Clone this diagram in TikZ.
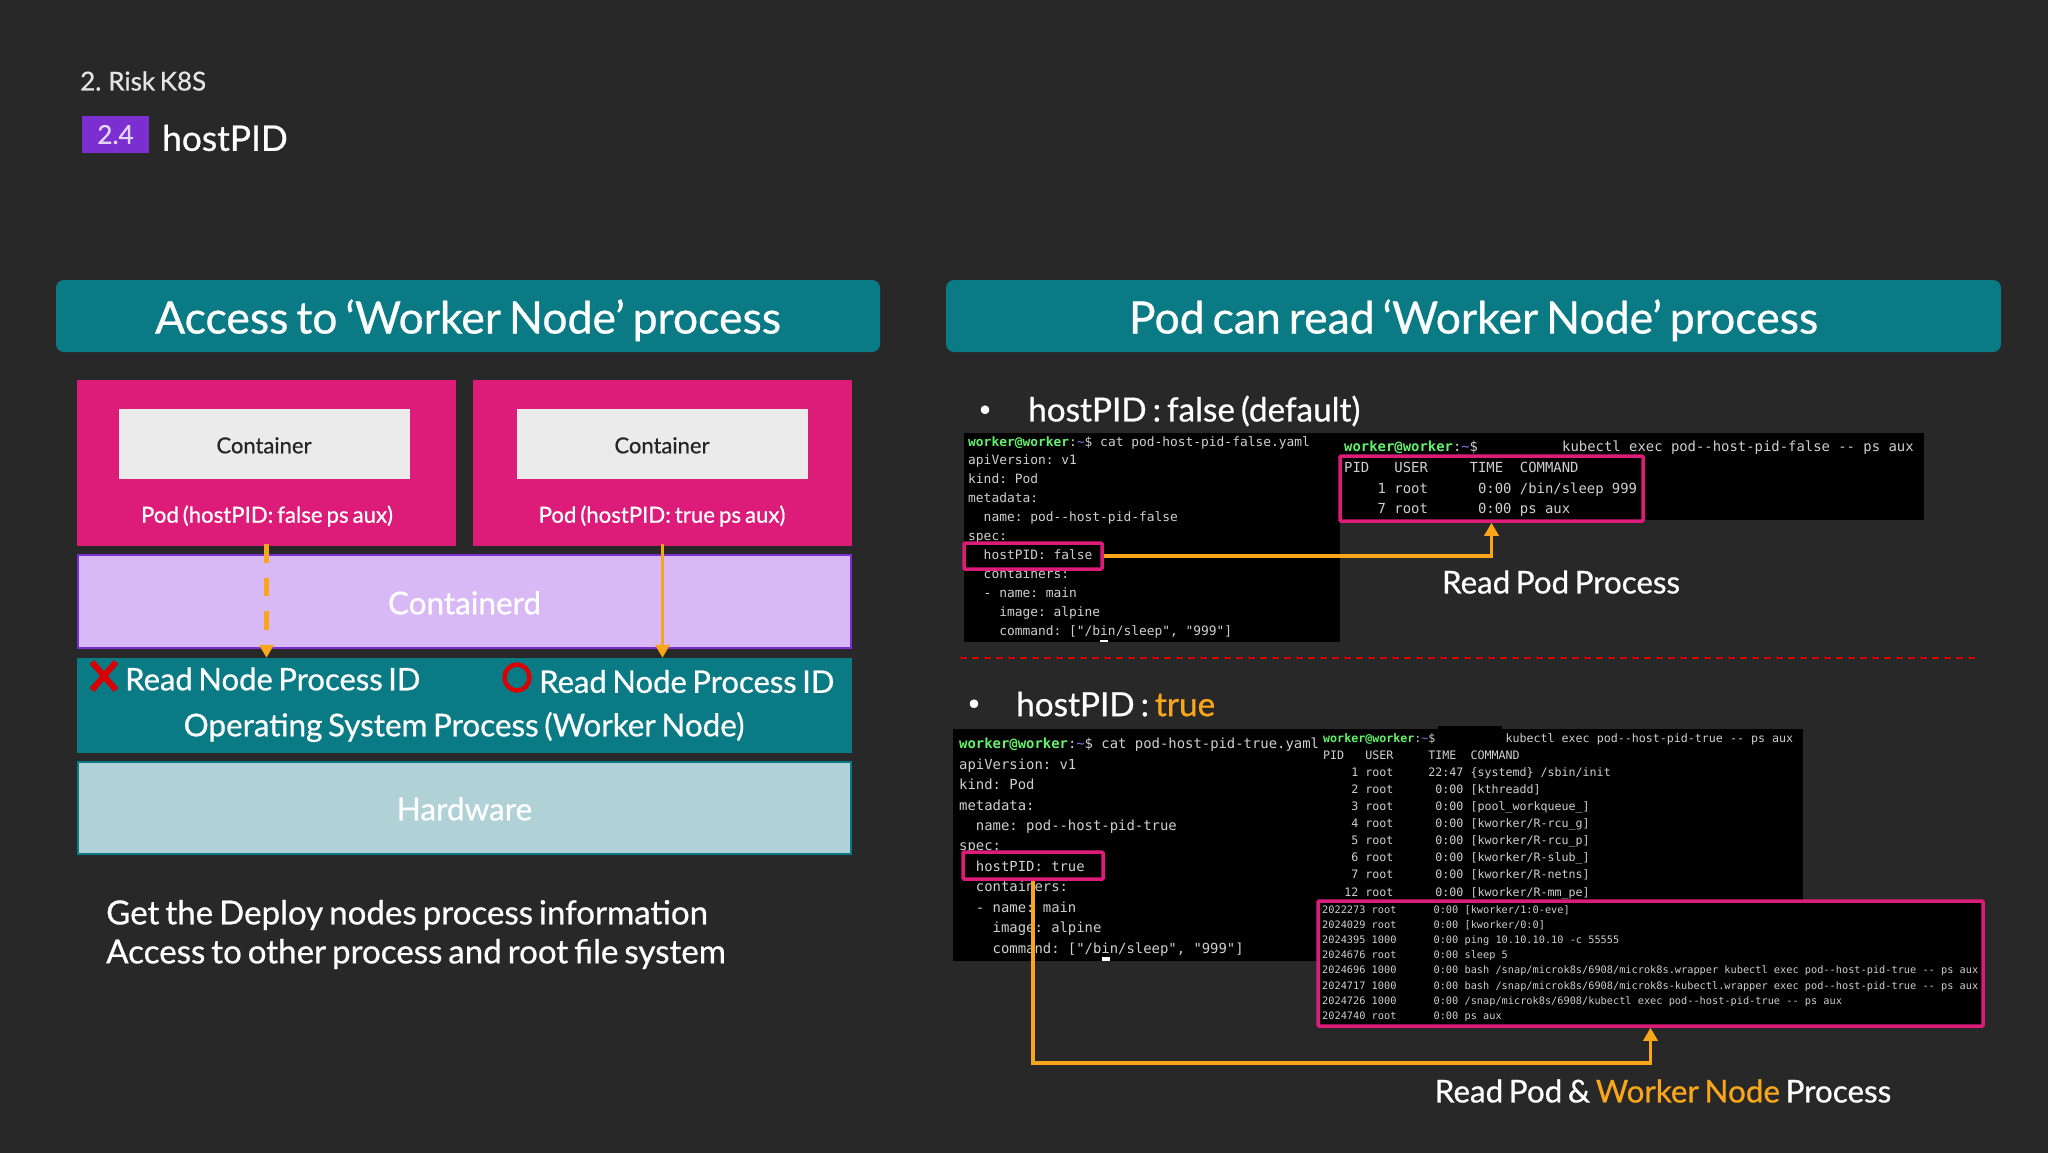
\documentclass[tikz,border=0pt]{standalone}
\usepackage{fontspec}
\usepackage{xcolor}
\setmainfont{Lato}[FakeBold=0.7,WordSpace=0.7]
\newfontfamily\termfont{DejaVu Sans Mono}
\usetikzlibrary{arrows.meta}
\definecolor{slidebg}{HTML}{282828}
\definecolor{tealbar}{HTML}{0A7A85}
\definecolor{podpink}{HTML}{DC1C78}
\definecolor{boxgray}{HTML}{EBEBEB}
\definecolor{lilac}{HTML}{D8B9F5}
\definecolor{purple2}{HTML}{7B2FD0}
\definecolor{hwblue}{HTML}{B0D2D6}
\definecolor{orange2}{HTML}{F9A61A}
\definecolor{termgray}{HTML}{CFCFCF}
\definecolor{termgreen}{HTML}{62F26C}
\definecolor{termblue}{HTML}{7A78E8}
\newcommand{\termsize}[2]{\termfont\frenchspacing\fontsize{#1}{#2}\selectfont}
\newcommand{\slidesize}[1]{\fontsize{#1}{#1}\selectfont}
\newcommand{\prompt}{\textcolor{termgreen}{\bfseries worker@worker}:\textcolor{termblue}{\textasciitilde}\$}
\tikzset{
  layer/.style={inner sep=0pt,text=white,text height=25.6pt,text depth=0pt,font=\slidesize{31.5}},
  titlebar/.style={fill=tealbar,rounded corners=8pt,inner sep=0pt,text=white,text height=35pt,text depth=0pt,font=\slidesize{44.5}},
  podbox/.style={fill=podpink,minimum width=379pt,minimum height=166pt,inner sep=0pt},
  ctrbox/.style={fill=boxgray,minimum width=291pt,minimum height=70pt,inner sep=0pt,text=black!85,text height=18.6pt,text depth=0pt,font=\slidesize{22}},
  podlabel/.style={inner sep=0pt,text=white,font=\slidesize{22.2}},
  termbg/.style={fill=black},
  termtext/.style={text=termgray,align=left,anchor=north west,inner sep=0pt},
  hilite/.style={draw=podpink,line width=3.5pt,rounded corners=1pt,inner sep=0pt},
  flow/.style={draw=orange2,line width=3.5pt,-{Triangle[length=13pt,width=14pt]}},
  slidetext/.style={inner sep=0pt,text=white},
}
\begin{document}
\begin{tikzpicture}[x=1pt,y=-1pt]
  \useasboundingbox (0,0) rectangle (2048,1152);
  \fill[slidebg] (-3,-3) rectangle (2051,1155);

  \node[slidetext,anchor=west,text=white!90!black,font=\slidesize{26}] (section) at (80,81) {2. Risk K8S};
  \node[fill=purple2,minimum width=67pt,minimum height=37pt,inner sep=0pt,text=purple2!20!white,font=\slidesize{26}] (badge) at (115.5,134.5) {2.4};
  \node[slidetext,anchor=west,font=\slidesize{35.3}] (topic) at (162,138) {hostPID};

  \node[titlebar,minimum width=824pt,minimum height=72pt] (titleleft) at (468,316) {Access to ‘Worker Node’ process};
  \node[titlebar,minimum width=1055pt,minimum height=72pt] (titleright) at (1473.5,316) {Pod can read ‘Worker Node’ process};

  \node[podbox] (podf) at (266.5,463) {};
  \node[podbox] (podt) at (662.5,463) {};
  \node[ctrbox] (ctrf) at (264,444) {Container};
  \node[ctrbox] (ctrt) at (662,444) {Container};
  \node[podlabel] (podflabel) at (267,516) {Pod (hostPID: false ps aux)};
  \node[podlabel] (podtlabel) at (662,516) {Pod (hostPID: true ps aux)};

  \node[layer,fill=lilac,draw=purple2,line width=2.5pt,minimum width=773pt,minimum height=93pt] (runtime) at (464.5,601.5) {Containerd};
  \node[fill=tealbar,minimum width=775pt,minimum height=95pt,inner sep=0pt] (os) at (464.5,705.5) {};
  \node[layer,fill=hwblue,draw=tealbar,line width=2pt,minimum width=773pt,minimum height=92pt] (hw) at (464.5,807.5) {Hardware};

  \node[slidetext,anchor=west,font=\slidesize{31}] (readno) at (125,679) {Read Node Process ID};
  \node[slidetext,anchor=west,font=\slidesize{31}] (readyes) at (539,681.5) {Read Node Process ID};
  \node[slidetext,font=\slidesize{31.4}] (oslabel) at (464,727) {Operating System Process (Worker Node)};

  \draw[red!85!black,line width=6pt] (92,662) -- (116,690) (116,662) -- (92,690);
  \draw[red!85!black,line width=4.5pt] (517,677.5) ellipse (12.5pt and 13pt);

  \draw[flow,line width=5pt,dash pattern=on 18.5pt off 15pt] (podf.south) ++(0,-2) -- (podf.south |- os.north);
  \draw[flow,line width=3.5pt] (podt.south) ++(0,-2) -- (podt.south |- os.north);

  \node[slidetext,anchor=west,font=\slidesize{33.1}] (notea) at (106,915) {Get the Deploy nodes process information};
  \node[slidetext,anchor=west,font=\slidesize{33.1}] (noteb) at (106,954) {Access to other process and root file system};

  \node[slidetext,font=\slidesize{22}] (bulletf) at (985,411) {•};
  \node[slidetext,anchor=west,font=\slidesize{33.3}] (headf) at (1028,411) {hostPID : false (default)};

  \fill[termbg] (964,433) rectangle (1340,642);
  \fill[termbg] (1340,433) rectangle (1924,520);
  \fill[white] (1100,640) rectangle (1108,642);
  \node[termtext,font=\termsize{12.9}{18.9}] (yamlf) at (968,436) {\prompt~cat pod-host-pid-false.yaml\\
apiVersion:~v1\\
kind:~Pod\\
metadata:\\
~~name:~pod-{}-host-pid-false\\
spec:\\
~~hostPID:~false\\
~~containers:\\
~~-~name:~main\\
~~~~image:~alpine\\
~~~~command:~["/bin/sleep",~"999"]};
  \node[termtext,font=\termsize{13.9}{20.5}] (psf) at (1344,441) {\prompt~~~~~~~~~~~~~~~~~~~~~~~~~~};
  \node[termtext,font=\termsize{13.9}{20.5}] (execf) at (1562,441) {kubectl~exec~pod-{}-host-pid-false~-{}-~ps~aux};
  \node[termtext,font=\termsize{13.9}{20.5}] (listf) at (1344,462) {PID~~~USER~~~~~TIME~~COMMAND\\
~~~~1~root~~~~~~0:00~/bin/sleep~999\\
~~~~7~root~~~~~~0:00~ps~aux};
  \node[hilite,minimum width=138pt,minimum height=26pt] (pidf) at (1033,556) {};
  \node[hilite,minimum width=303pt,minimum height=65pt] (procf) at (1491.5,488.5) {};
  \draw[flow] (pidf.east) -| (procf.south);
  \node[slidetext,font=\slidesize{31.3}] (readf) at (1561,582) {Read Pod Process};

  \draw[red!80!black,line width=1.5pt,dash pattern=on 7pt off 5pt] (960,658) -- (1979,658);

  \node[slidetext,font=\slidesize{22}] (bullett) at (974,705) {•};
  \node[slidetext,anchor=west,font=\slidesize{33.3}] (headt) at (1016,704) {hostPID : \textcolor{orange2}{true}};

  \fill[termbg] (953,729) rectangle (1320,961);
  \fill[termbg] (1320,729) rectangle (1803,901);
  \fill[termbg] (1438,726) rectangle (1502,729);
  \fill[white] (1102,957) rectangle (1110,961);
  \node[termtext,font=\termsize{13.9}{20.42}] (yamlt) at (959,738) {\prompt~cat pod-host-pid-true.yaml\\
apiVersion:~v1\\
kind:~Pod\\
metadata:\\
~~name:~pod-{}-host-pid-true\\
spec:\\
~~hostPID:~true\\
~~containers:\\
~~-~name:~main\\
~~~~image:~alpine\\
~~~~command:~["/bin/sleep",~"999"]};
  \node[termtext,font=\termsize{11.65}{17.1}] (listt) at (1323,733) {\prompt~~~~~~~~~~kubectl~exec~pod-{}-host-pid-true~-{}-~ps~aux\\
PID~~~USER~~~~~TIME~~COMMAND\\
~~~~1~root~~~~~22:47~\{systemd\}~/sbin/init\\
~~~~2~root~~~~~~0:00~[kthreadd]\\
~~~~3~root~~~~~~0:00~[pool\_workqueue\_]\\
~~~~4~root~~~~~~0:00~[kworker/R-rcu\_g]\\
~~~~5~root~~~~~~0:00~[kworker/R-rcu\_p]\\
~~~~6~root~~~~~~0:00~[kworker/R-slub\_]\\
~~~~7~root~~~~~~0:00~[kworker/R-netns]\\
~~~12~root~~~~~~0:00~[kworker/R-mm\_pe]};
  \fill[termbg] (1318,901) rectangle (1983,1026);
  \node[termtext,font=\termsize{10.28}{15.1}] (listall) at (1322,905.5) {2022273~root~~~~~~0:00~[kworker/1:0-eve]\\
2024029~root~~~~~~0:00~[kworker/0:0]\\
2024395~1000~~~~~~0:00~ping~10.10.10.10~-c~55555\\
2024676~root~~~~~~0:00~sleep~5\\
2024696~1000~~~~~~0:00~bash~/snap/microk8s/6908/microk8s.wrapper~kubectl~exec~pod-{}-host-pid-true~-{}-~ps~aux\\
2024717~1000~~~~~~0:00~bash~/snap/microk8s/6908/microk8s-kubectl.wrapper~exec~pod-{}-host-pid-true~-{}-~ps~aux\\
2024726~1000~~~~~~0:00~/snap/microk8s/6908/kubectl~exec~pod-{}-host-pid-true~-{}-~ps~aux\\
2024740~root~~~~~~0:00~ps~aux};
  \node[hilite,minimum width=140pt,minimum height=27pt] (pidt) at (1033,865.5) {};
  \node[hilite,minimum width=665pt,minimum height=125pt] (procall) at (1650.5,963.5) {};
  \coordinate (bendt) at (1033,1063);
  \draw[flow] (pidt.south) -- (bendt) -| (procall.south);
  \node[slidetext,font=\slidesize{31.4}] (readall) at (1663,1091) {Read Pod \& \textcolor{orange2}{Worker Node} Process};
\end{tikzpicture}
\end{document}
